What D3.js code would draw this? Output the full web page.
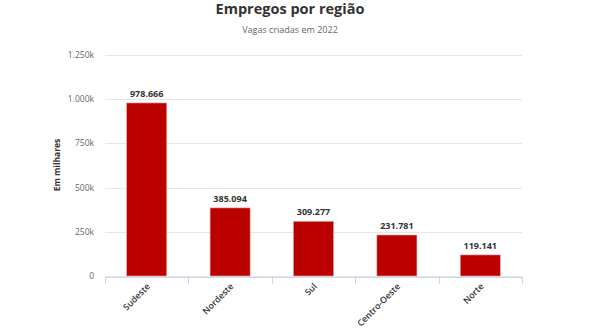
<!DOCTYPE html>
<html><head><meta charset="utf-8">
<script src="https://cdn.jsdelivr.net/npm/d3@7"></script>
<style>body{margin:0;background:#fff;font-family:"Open Sans",sans-serif;}</style>
</head><body><svg id="c" width="590" height="330"></svg>
<script>
const categories = ["Sudeste","Nordeste","Sul","Centro-Oeste","Norte"];
const values = [978666,385094,309277,231781,119141];
const valueLabels = ["978.666","385.094","309.277","231.781","119.141"];
const yTicks = [0,250000,500000,750000,1000000,1250000];
const yTickLabels = ["0","250k","500k","750k","1.000k","1.250k"];

const svg = d3.select("#c");
const m = {l:105, r:522, t:55, b:276};
const x = d3.scaleBand().domain(categories).range([m.l,m.r]).paddingInner(0.52).paddingOuter(0.26);
const y = d3.scaleLinear().domain([0,1250000]).range([m.b,m.t]);

svg.append("text").attr("x",290).attr("y",14).attr("text-anchor","middle")
  .attr("font-size",14.5).attr("font-weight","bold").attr("fill","#333").text("Empregos por região");
svg.append("text").attr("x",290).attr("y",33).attr("text-anchor","middle")
  .attr("font-size",9).attr("fill","#666").text("Vagas criadas em 2022");

// grid
const gy = svg.append("g");
gy.selectAll("line").data(yTicks).join("line")
  .attr("x1",m.l).attr("x2",m.r).attr("y1",d=>Math.round(y(d))+0.5).attr("y2",d=>Math.round(y(d))+0.5)
  .attr("stroke","#e6e6e6");
gy.selectAll("text").data(yTicks).join("text")
  .attr("x",94).attr("y",d=>y(d)+3).attr("text-anchor","end")
  .attr("font-size",8.5).attr("fill","#666").text((d,i)=>yTickLabels[i]);

svg.append("text").attr("transform","translate(60,165) rotate(-90)").attr("text-anchor","middle")
  .attr("font-size",8.5).attr("font-weight","bold").attr("fill","#333").text("Em milhares");

// bars
svg.append("g").selectAll("rect").data(values).join("rect")
  .attr("x",(d,i)=>x(categories[i])).attr("width",x.bandwidth())
  .attr("y",d=>y(d)).attr("height",d=>y(0)-y(d))
  .attr("fill","#bb0000").attr("stroke","#e7a0a0").attr("stroke-width",0.6);

svg.append("g").selectAll("text").data(values).join("text")
  .attr("x",(d,i)=>x(categories[i])+x.bandwidth()/2).attr("y",d=>y(d)-6)
  .attr("text-anchor","middle").attr("font-size",9).attr("font-weight","bold").attr("fill","#333")
  .text((d,i)=>valueLabels[i]);

// x axis
const ax = svg.append("g");
ax.append("line").attr("x1",m.l).attr("x2",m.r).attr("y1",277.5).attr("y2",277.5).attr("stroke","#ccd6eb");
const bounds = d3.range(categories.length+1).map(i=>m.l + i*(m.r-m.l)/categories.length);
ax.selectAll("line.t").data(bounds).join("line").attr("class","t")
  .attr("x1",d=>Math.round(d)+0.5).attr("x2",d=>Math.round(d)+0.5).attr("y1",277).attr("y2",284)
  .attr("stroke","#ccd6eb");
ax.selectAll("text").data(categories).join("text")
  .attr("transform",d=>`translate(${x(d)+x.bandwidth()/2+4},${287}) rotate(-45)`)
  .attr("text-anchor","end").attr("font-size",8.8).attr("font-weight","600").attr("fill","#333")
  .text(d=>d);
</script></body></html>
